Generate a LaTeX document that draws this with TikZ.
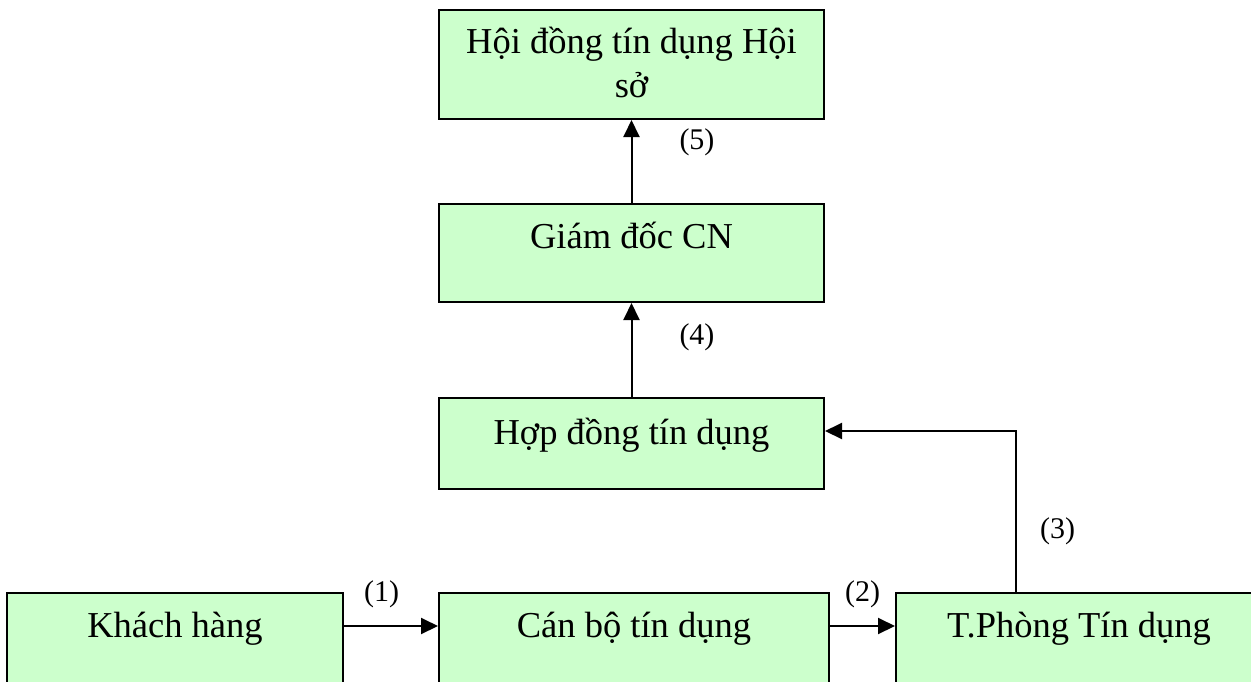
\documentclass[tikz,border=0pt]{standalone}
\usepackage{fontspec}
\setmainfont{Liberation Serif}
\usepackage{xcolor}
\usetikzlibrary{positioning,arrows.meta}
\definecolor{boxgreen}{HTML}{CCFFCC}

\begin{document}
\begin{tikzpicture}[
    x=1pt, y=-1pt,
    box/.style={draw=black, line width=2pt, fill=boxgreen, align=center, inner sep=0pt, minimum width=385pt, text height=44pt, font=\fontsize{36.5}{44}\selectfont},
    lbl/.style={inner sep=0pt, font=\fontsize{30}{34}\selectfont},
    arrow/.style={-{Triangle[length=17pt,width=16pt]}, line width=2pt},
]
    \clip (0,0) rectangle (1251,681);

    % Bottom row
    \node[box, text depth=63pt, minimum width=336pt, anchor=north west] (kh) at (6,592) {Khách hàng};
    \node[box, text depth=63pt, minimum width=390pt, right=94pt of kh] (cb) {Cán bộ tín dụng};
    \node[box, text depth=63pt, minimum width=366pt, right=65pt of cb] (tp) {T.Phòng Tín dụng};

    % Approval chain
    \node[box, text height=46pt, text depth=45pt, above right=102pt and 0pt of cb.north west] (hd) {Hợp đồng tín dụng};
    \node[box, text depth=54pt, above=94pt of hd] (gd) {Giám đốc CN};
    \node[box, text height=87pt, text depth=22pt, above=83pt of gd] (hoi) {Hội đồng tín dụng Hội\\sở};

    % Connections
    \draw[arrow] ([yshift=20.5pt]kh.east) -- node[lbl, above=17.5pt, pos=0.4] (lab1) {(1)} ([yshift=20.5pt]cb.west);
    \draw[arrow] ([yshift=20.5pt]cb.east) -- node[lbl, above=17.5pt, pos=0.5] (lab2) {(2)} ([yshift=20.5pt]tp.west);
    \draw[arrow] ([xshift=-63pt]tp.north) |- node[lbl, right=23pt, pos=0.19] (lab3) {(3)} ([yshift=12.5pt]hd.east);
    \draw[arrow] (hd) -- node[lbl, right=47pt, pos=0.64] (lab4) {(4)} (gd);
    \draw[arrow] (gd) -- node[lbl, right=47pt, pos=0.73] (lab5) {(5)} (hoi);
\end{tikzpicture}
\end{document}
